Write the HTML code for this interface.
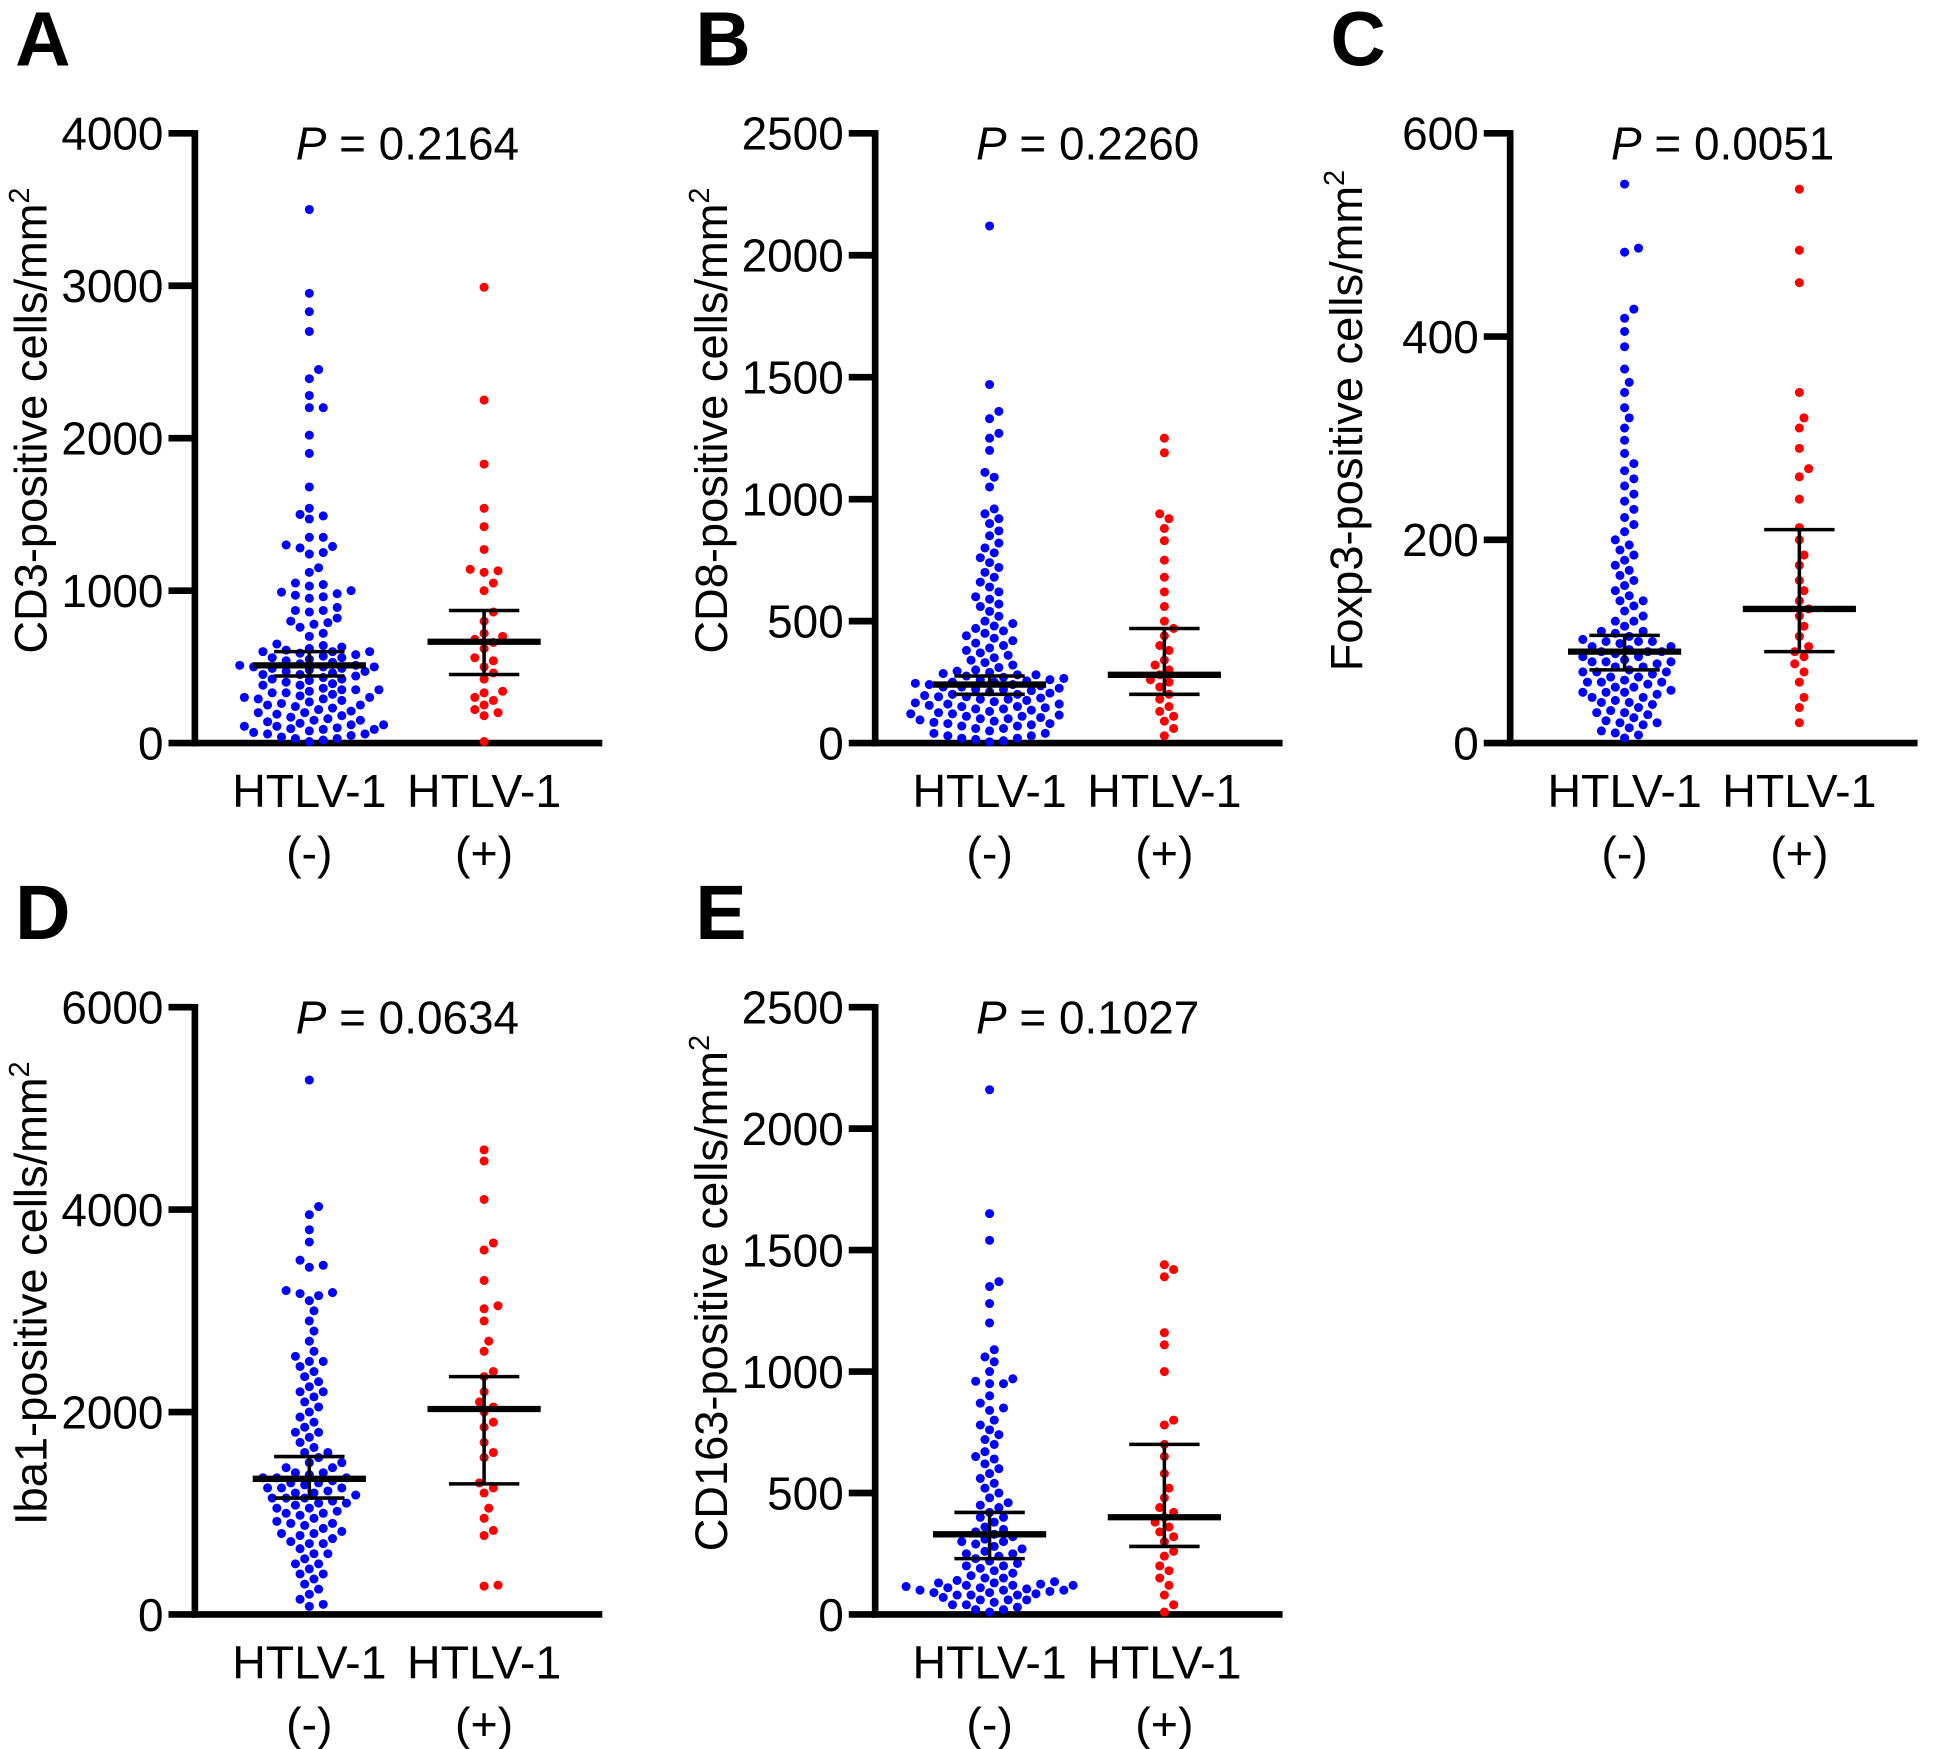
<!DOCTYPE html>
<html><head><meta charset="utf-8"><style>
html,body{margin:0;padding:0;background:#fff}
svg{display:block;font-family:"Liberation Sans",Arial,sans-serif}
</style></head><body>
<svg id="fig" width="1949" height="1749" viewBox="0 0 1550 1391" preserveAspectRatio="none" xmlns="http://www.w3.org/2000/svg"></svg>
<script>
const A_neg=[3500,2950,2830,2700,2450,2390,2280,2200,2200,2020,1900,1680,1540,1500,1490,1470,1350,1350,1300,1290,1280,1250,1240,1150,1120,1050,1040,1030,1000,990,980,970,960,950,890,870,870,860,820,800,790,780,760,720,700,650,640,630,620,610,600,600,590,580,570,560,550,540,530,520,510,500,500,490,490,480,470,460,450,440,430,420,410,400,390,380,360,350,350,340,330,320,310,300,300,290,280,270,260,250,240,230,220,210,200,190,180,170,160,150,140,130,120,110,100,95,90,80,70,60,50,40,30,20,10,600,560,510,470,420,380,330,290,250,200,150,110,60,30,500,450,350,120,90];
const A_pos=[2990,2250,1830,1540,1420,1270,1140,1130,1120,1050,1000,860,800,720,700,680,660,620,560,540,500,460,420,340,330,300,280,250,220,200,180,10];
const B_neg=[2120,1470,1360,1330,1270,1250,1200,1110,1090,1050,960,940,920,900,870,850,820,800,780,760,740,720,700,680,660,640,620,600,590,570,560,540,520,500,490,480,470,460,450,440,430,420,410,400,390,380,370,360,350,340,330,320,310,300,295,290,285,280,275,270,265,260,255,250,245,240,235,230,225,220,215,210,205,200,195,190,185,180,175,170,165,160,155,150,145,140,135,130,125,120,115,110,105,100,95,90,85,80,75,70,60,50,40,30,20,15,10,5,280,260,240,220,200,180,160,140,120,100,80,60,40,20,250,230,190,150,110,70,30];
const B_pos=[1250,1190,940,920,880,830,750,680,620,560,500,470,440,400,380,340,320,300,280,260,250,230,200,180,150,130,110,90,60,30];
const C_neg=[550,487,483,427,418,405,390,368,355,345,330,320,310,298,285,275,268,260,253,245,238,230,222,215,208,200,195,190,185,180,175,170,165,160,155,150,145,140,135,130,125,120,115,110,108,105,102,100,98,95,92,90,88,85,82,80,78,75,72,70,68,65,62,60,58,55,52,50,48,45,42,40,38,35,32,30,28,25,22,20,18,15,12,10,8,5,140,120,110,100,95,90,85,80,75,70,65,60,55,50,45,40,30,20,100,90,80,70,60,50];
const C_pos=[545,485,453,345,320,310,290,270,262,240,212,200,185,175,160,150,140,132,125,115,105,95,90,85,78,70,60,45,35,20];
const D_neg=[5280,4030,3950,3800,3680,3500,3450,3430,3200,3180,3170,3150,3100,3000,2900,2800,2700,2600,2550,2500,2450,2400,2350,2300,2250,2200,2150,2100,2050,2000,1950,1900,1850,1800,1750,1700,1650,1600,1550,1500,1450,1400,1380,1350,1320,1300,1280,1250,1220,1200,1180,1150,1120,1100,1080,1050,1020,1000,980,950,920,900,880,850,820,800,780,750,720,700,650,600,550,500,450,400,350,300,250,200,150,100,80,2500,2200,1800,1600,1450,1400,1350,1300,1250,1200,1150,1100,1000,900,800,700,600,500,400,1500,1350,1250,1150,1050];
const D_pos=[4590,4480,4100,3670,3600,3300,3050,3020,2900,2700,2600,2400,2350,2200,2100,2050,2000,1900,1850,1700,1600,1550,1300,1250,1200,1050,950,830,780,290,280];
const E_neg=[2160,1650,1540,1370,1350,1280,1200,1090,1060,1040,1000,970,960,950,900,870,840,800,780,760,740,720,700,670,640,620,600,580,560,540,520,500,480,460,440,420,400,380,360,340,330,320,310,300,290,280,270,260,250,240,230,220,210,200,190,180,170,160,150,140,135,130,125,120,115,110,105,100,95,90,85,80,70,60,50,40,30,20,10,450,400,350,300,250,200,150,130,120,110,100,90,80,60,40,20,120,100,80,60,950,850,650];
const E_pos=[1440,1420,1390,1160,1110,1000,800,780,700,650,580,520,480,440,420,400,380,360,340,320,300,260,240,200,180,150,120,80,40,10];
const letters=["A","B","C","D","E"];
const pValues=["0.2164","0.2260","0.0051","0.0634","0.1027"];
const yTitles=["CD3-positive cells/mm","CD8-positive cells/mm","Foxp3-positive cells/mm","Iba1-positive cells/mm","CD163-positive cells/mm"];
const yMaxes=[4000,2500,600,6000,2500];
const yTickSteps=[1000,500,200,2000,500];
const medians=[[510,665],[240,280],[90,132],[1340,2030],[330,400]];
const q1s=[[440,450],[200,200],[72,90],[1150,1290],[230,280]];
const q3s=[[600,870],[275,470],[106,210],[1560,2350],[420,700]];
const negData=[A_neg,B_neg,C_neg,D_neg,E_neg];
const posData=[A_pos,B_pos,C_pos,D_pos,E_pos];
const layout=[{ax:155,top:106,bot:591},{ax:696,top:106,bot:591},{ax:1201,top:106,bot:591},{ax:155,top:801,bot:1284},{ax:696,top:801,bot:1284}];
const NS="http://www.w3.org/2000/svg";
const svg=document.getElementById('fig');
function mk(tag,attrs,parent){const e=document.createElementNS(NS,tag);for(const k in attrs)e.setAttribute(k,attrs[k]);(parent||svg).appendChild(e);return e;}
function swarm(vals,cx,yf,r){
  const s=[...vals].sort((a,b)=>a-b);const placed=[];
  for(const v of s){const y=yf(v);let best=null;
    for(let k=0;k<80&&best===null;k++){for(const sg of (k===0?[0]:[1,-1])){const x=cx+sg*k*r*0.9;
      if(placed.every(p=>(p.x-x)**2+(p.y-y)**2>=(2*r)**2)){best=x;break;}}}
    if(best===null)best=cx;placed.push({x:best,y:y,v:v});}
  return placed;
}
letters.forEach((L,i)=>{
  const lo=layout[i];const g=mk('g',{});
  
  
  const yf=v=>lo.bot-(v/yMaxes[i])*(lo.bot-lo.top);
  const gx=[lo.ax+91,lo.ax+230];
  const lt=mk('text',{x:lo.ax-143,y:lo.top-54,'font-size':61,'font-weight':'bold'},g);lt.textContent=L;
  
  const ya=mk('line',{x1:lo.ax,y1:lo.top-2.5,x2:lo.ax,y2:lo.bot+2.5,stroke:'#000','stroke-width':5.3},g);
  
  const xa=mk('line',{x1:lo.ax-2.5,y1:lo.bot,x2:lo.ax+324,y2:lo.bot,stroke:'#000','stroke-width':5.3},g);
  
  for(let t=0;t<=yMaxes[i];t+=yTickSteps[i]){
    const y=yf(t);
    const tk=mk('line',{x1:lo.ax-21,y1:y,x2:lo.ax,y2:y,stroke:'#000','stroke-width':5.3},g);
    
    const tl=mk('text',{x:lo.ax-25,y:y+13,'font-size':36.5,'text-anchor':'end'},g);tl.textContent=t;
    
  }
  const yt=mk('text',{transform:`translate(${lo.ax-118},${(lo.top+lo.bot)/2-14}) rotate(-90)`,'font-size':36,'text-anchor':'middle'},g);
  yt.innerHTML=yTitles[i]+'<tspan font-size="23" dy="-14">2</tspan>';
  
  const pt=mk('text',{x:lo.ax+169,y:lo.top+21,'font-size':36.5,'text-anchor':'middle'},g);
  pt.innerHTML='<tspan font-style="italic">P</tspan> = '+pValues[i];
  
  const labs=['(-)','(+)'];
  gx.forEach((x,j)=>{
    const c1=mk('text',{x:x,y:lo.bot+51,'font-size':37,'text-anchor':'middle'},g);c1.textContent='HTLV-1';
    
    const c2=mk('text',{x:x,y:lo.bot+100,'font-size':37,'text-anchor':'middle'},g);c2.textContent=labs[j];
    
  });
  [negData[i],posData[i]].forEach((d,j)=>{
    const col=j===0?'#0000ff':'#ff0000';
    swarm(d,gx[j],yf,4.1).forEach(p=>{
      const c=mk('circle',{cx:p.x,cy:p.y,r:3.6,fill:col},g);
      
      
    });
    const m=yf(medians[i][j]),a=yf(q1s[i][j]),b=yf(q3s[i][j]);
    const ml=mk('line',{x1:gx[j]-45,y1:m,x2:gx[j]+45,y2:m,stroke:'#000','stroke-width':5},g);
    
    const vl=mk('line',{x1:gx[j],y1:a,x2:gx[j],y2:b,stroke:'#000','stroke-width':2.8},g);
    
    [a,b].forEach(y=>{const w=mk('line',{x1:gx[j]-28,y1:y,x2:gx[j]+28,y2:y,stroke:'#000','stroke-width':2.8},g);
      });
  });
});
</script>
</body></html>
